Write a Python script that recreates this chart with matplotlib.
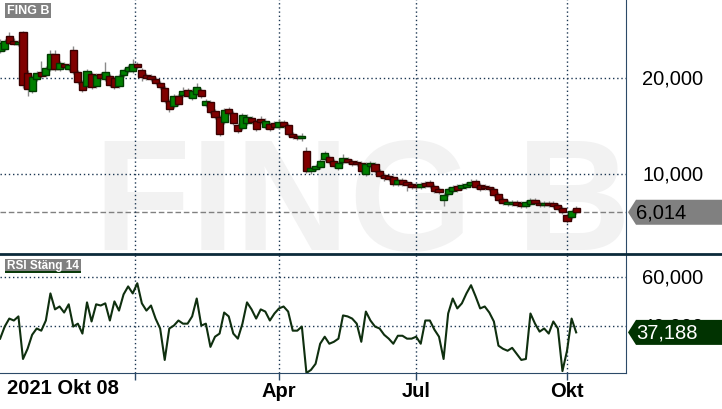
import numpy as np
import pandas as pd
import matplotlib
matplotlib.use("Agg")
import matplotlib.pyplot as plt
import matplotlib.transforms as mtransforms
from matplotlib.lines import Line2D
from matplotlib.patches import Polygon, Rectangle

plt.rcParams['font.family'] = ['Liberation Sans', 'DejaVu Sans']

# Stockholm trading sessions, 2021-10-08 .. 2022-10-07
holidays = ["2021-12-24", "2021-12-31", "2022-01-06", "2022-04-15",
            "2022-04-18", "2022-05-26", "2022-06-06", "2022-06-24"]
sessions = pd.bdate_range("2021-10-08", "2022-10-07")
sessions = sessions[~sessions.isin(pd.to_datetime(holidays))]
candle_pos = np.arange(len(sessions))[::2]

# FING B, SEK (one candle per two sessions)
opens = [22.81, 23.02, 24.38, 23.85, 23.54, 24.79, 20.52, 18.65, 19.90, 20.62,
         20.31, 20.94, 22.50, 20.94, 21.46, 20.94, 22.92, 20.62, 19.58, 19.17,
         20.42, 19.17, 20.42, 19.90, 20.21, 20.00, 19.17, 20.31, 20.73, 20.73,
         21.46, 20.83, 20.31, 20.21, 19.90, 19.48, 18.96, 17.60, 17.08, 18.12,
         18.23, 18.75, 17.92, 18.33, 18.75, 17.19, 17.50, 16.56, 15.93, 15.42,
         16.77, 16.35, 15.10, 14.79, 15.31, 15.83, 15.52, 15.73, 14.89, 15.21,
         15.31, 14.89, 15.42, 15.10, 14.17, 13.96, 13.75, 12.39, 10.31, 10.52,
         10.73, 11.56, 11.77, 11.35, 10.62, 11.25, 11.56, 11.35, 11.25, 11.14,
         10.00, 10.83, 11.04, 10.31, 9.89, 9.79, 9.69, 8.96, 9.37, 9.17,
         8.96, 8.85, 8.64, 9.06, 9.17, 8.75, 8.44, 7.29, 7.92, 8.23,
         8.75, 8.54, 8.64, 8.85, 9.27, 8.85, 8.75, 8.64, 8.44, 7.92,
         7.39, 6.87, 6.87, 7.08, 6.98, 6.67, 6.87, 7.29, 6.98, 6.77,
         6.98, 6.98, 6.77, 6.46, 5.73, 5.52, 6.45]
closes = [23.65, 23.85, 23.65, 23.54, 23.75, 19.27, 18.85, 20.10, 20.52, 20.21,
          21.04, 22.50, 20.94, 21.56, 21.15, 21.35, 20.62, 19.58, 18.75, 20.73,
          19.06, 20.31, 20.00, 20.62, 19.27, 19.06, 20.21, 20.83, 21.15, 21.46,
          21.15, 20.10, 20.00, 19.90, 19.48, 19.06, 17.60, 16.77, 18.12, 17.29,
          18.65, 18.12, 18.65, 19.06, 18.12, 17.60, 16.46, 15.93, 14.17, 16.67,
          16.35, 15.31, 14.48, 16.15, 15.93, 15.42, 14.69, 15.42, 15.52, 14.69,
          14.89, 15.42, 15.00, 14.17, 13.85, 13.75, 13.96, 10.31, 10.62, 10.83,
          11.35, 12.19, 11.25, 10.83, 11.14, 11.66, 11.25, 11.04, 11.04, 10.31,
          11.04, 11.14, 10.31, 9.79, 9.58, 9.48, 8.96, 9.37, 8.96, 8.85,
          8.64, 8.64, 8.96, 8.75, 8.75, 8.23, 8.12, 7.81, 8.44, 8.64,
          8.33, 8.85, 8.96, 9.17, 8.64, 8.44, 8.54, 8.44, 7.81, 7.29,
          6.98, 7.08, 7.08, 6.77, 6.67, 7.08, 7.29, 6.98, 6.77, 6.98,
          6.77, 6.67, 6.35, 6.04, 5.10, 6.15, 6.014]
highs = [24.06, 24.06, 24.79, 24.17, 23.96, 24.90, 20.83, 20.31, 20.73, 21.77,
         21.25, 22.92, 22.92, 21.77, 21.67, 21.56, 23.33, 20.83, 19.79, 20.94,
         20.62, 20.52, 20.62, 21.66, 20.42, 20.21, 20.42, 21.04, 21.35, 21.98,
         21.67, 21.04, 20.52, 20.42, 20.10, 19.69, 19.17, 17.81, 18.33, 18.33,
         19.06, 18.96, 18.85, 19.48, 18.96, 17.81, 17.71, 16.77, 16.14, 16.88,
         16.98, 16.56, 15.31, 16.35, 16.25, 16.04, 15.73, 16.04, 15.83, 15.42,
         15.52, 15.73, 15.62, 15.31, 14.37, 14.17, 14.27, 12.81, 10.83, 11.04,
         11.56, 12.39, 11.98, 11.56, 11.35, 12.08, 11.77, 11.56, 11.46, 11.35,
         11.25, 11.35, 11.25, 10.52, 10.10, 10.00, 9.90, 9.58, 9.58, 9.37,
         9.17, 9.06, 9.17, 9.27, 9.37, 8.96, 8.64, 8.02, 8.64, 8.85,
         8.96, 9.06, 9.17, 9.48, 9.48, 9.06, 8.96, 8.85, 8.64, 8.12,
         7.60, 7.29, 7.29, 7.29, 7.18, 7.29, 7.50, 7.50, 7.18, 7.18,
         7.18, 7.18, 6.98, 6.67, 5.94, 6.35, 6.66]
lows = [22.60, 22.81, 23.54, 23.44, 23.33, 18.96, 18.13, 18.44, 19.69, 20.00,
        20.10, 20.73, 20.73, 20.73, 20.94, 20.73, 20.42, 19.38, 18.54, 18.96,
        18.85, 18.96, 19.79, 19.69, 19.06, 18.85, 18.96, 20.10, 20.52, 20.52,
        20.94, 19.69, 19.79, 19.69, 19.27, 18.85, 17.39, 16.46, 16.87, 17.08,
        18.02, 17.92, 17.71, 18.12, 17.92, 16.98, 16.25, 15.73, 13.96, 15.21,
        16.14, 15.10, 14.27, 14.58, 15.10, 15.21, 14.48, 15.21, 14.69, 14.48,
        14.69, 14.69, 14.79, 13.96, 13.65, 13.54, 13.44, 10.10, 10.00, 10.31,
        10.52, 11.35, 11.04, 10.62, 10.41, 11.04, 11.04, 10.83, 10.83, 10.10,
        9.79, 10.62, 10.10, 9.58, 9.27, 9.27, 8.75, 8.75, 8.75, 8.23,
        8.44, 8.33, 8.44, 8.54, 8.54, 8.02, 7.92, 6.67, 7.71, 8.02,
        8.12, 8.33, 8.44, 8.64, 8.44, 8.23, 8.33, 8.23, 7.60, 7.08,
        6.77, 6.67, 6.67, 6.56, 6.46, 6.46, 6.67, 6.77, 6.56, 6.56,
        6.56, 6.46, 6.15, 5.83, 4.88, 5.31, 5.83]

# RSI (close, 14)
rsi = [34.6, 39.6, 42.9, 42.1, 43.8, 26.2, 30.4, 36.2, 38.8, 37.9,
       42.1, 53.3, 46.7, 47.9, 45.4, 48.8, 39.6, 40.8, 36.7, 49.6,
       41.7, 48.8, 48.3, 49.2, 42.1, 50.0, 46.2, 52.9, 56.2, 53.3,
       57.5, 49.2, 46.2, 48.3, 42.9, 38.8, 25.8, 38.8, 40.0, 42.1,
       40.8, 40.8, 43.8, 51.2, 40.0, 40.8, 31.2, 35.4, 36.7, 45.4,
       43.8, 36.7, 34.6, 40.8, 49.6, 46.7, 42.9, 46.7, 45.8, 42.1,
       45.0, 47.1, 47.9, 45.8, 37.9, 37.9, 39.6, 20.4, 21.7, 24.2,
       32.5, 35.4, 32.5, 33.3, 34.6, 44.2, 43.8, 42.9, 40.8, 33.3,
       45.8, 42.1, 39.6, 38.8, 36.2, 34.6, 32.5, 35.8, 35.8, 34.6,
       34.6, 35.4, 32.5, 42.1, 42.1, 38.3, 35.4, 26.2, 45.0, 51.2,
       47.1, 49.2, 53.3, 56.7, 52.1, 47.1, 47.9, 45.4, 41.7, 31.7,
       30.4, 29.6, 30.8, 28.3, 25.8, 26.2, 45.0, 40.8, 37.5, 38.8,
       36.7, 41.7, 38.8, 21.2, 29.6, 42.9, 37.188]

price_ticks = [10, 20]
rsi_ticks = [40, 60]
month_starts = ["2022-01-01", "2022-04-01", "2022-07-01", "2022-10-01"]
month_labels = ["", "Apr", "Jul", "Okt"]
ticker = "FING B"
rsi_title = "RSI Stäng 14"

W, H = 722, 410
grid_col = "#1b3652"
frame_col = "#2c4a68"
dots = (0, (1, 2))

fig = plt.figure(figsize=(W / 100, H / 100), dpi=100)
ax = fig.add_axes([0, 1 - 255 / H, 626 / W, 255 / H])
rax = fig.add_axes([0, 1 - 374 / H, 626 / W, 119 / H])

month_pos = [sessions.searchsorted(pd.Timestamp(m)) for m in month_starts]

for a in (ax, rax):
    a.set_xlim(-0.06, 273.8)
    a.set_xticks(month_pos)
    a.spines['left'].set_visible(False)
    a.spines['top'].set_visible(False)
    a.spines['right'].set_color(frame_col)
    a.grid(True, color=grid_col, linestyle=dots, linewidth=1)
    a.tick_params(axis='y', length=0, labelleft=False, labelright=False)

ax.spines['bottom'].set_visible(False)
rax.spines['bottom'].set_color(frame_col)

# separator between the panels runs across the whole picture
fig.add_artist(Line2D([0, 1], [1 - 255 / H, 1 - 255 / H], transform=fig.transFigure,
                      color="#0b2a3a", linewidth=2))

# price panel
ax.set_ylim(1.666, 28.229)
ax.set_yticks(price_ticks)
ax.tick_params(axis='x', length=0, labelbottom=False)
ax.text(362 / 626, 5 / 255, ticker, transform=ax.transAxes, ha='center',
        va='baseline', fontsize=114, fontweight='bold', color='#f2f2f2', zorder=0)

opens_a = np.array(opens)
closes_a = np.array(closes)
up = closes_a >= opens_a
ax.vlines(candle_pos, lows, highs, color='#8a8a8a', linewidth=1, zorder=2)
ax.bar(candle_pos, np.abs(closes_a - opens_a), bottom=np.minimum(opens_a, closes_a),
       width=3.1, color=np.where(up, '#008000', '#800000'),
       edgecolor=np.where(up, '#003a00', '#3a0000'), linewidth=1, zorder=3)
ax.axhline(closes[-1], color='#808080', linestyle=(0, (4, 2)), linewidth=1, zorder=1)

# rsi panel
rax.set_ylim(20.4, 69.6)
rax.set_yticks(rsi_ticks)
rax.plot(candle_pos, rsi, color='#0f2f0f', linewidth=1.5, zorder=3)
rax.set_xticklabels(month_labels)
rax.tick_params(axis='x', length=5, width=1, color=frame_col, pad=0.5,
                labelsize=14.5)
for lab in rax.get_xticklabels():
    lab.set_fontweight('bold')
fig.text(7 / W, 1 - 379 / H, "2021 Okt 08", ha='left', va='top',
         fontsize=14.5, fontweight='bold')


def right_labels(a, values, fmt):
    tr = mtransforms.blended_transform_factory(a.transAxes, a.transData)
    for v in values:
        a.text(642 / 626, v, fmt(v), transform=tr, ha='left', va='center',
               fontsize=14.5, clip_on=False)


def value_tag(a, value, text, face, txt):
    yd = a.transData.transform((0, value))[1] / H
    h = 12.5 / H
    pts = [(628 / W, yd), (636 / W, yd + h), (1.01, yd + h), (1.01, yd - h), (636 / W, yd - h)]
    fig.add_artist(Polygon(pts, closed=True, transform=fig.transFigure,
                           facecolor=face, edgecolor='none'))
    fig.text(636 / W, yd, text, ha='left', va='center', fontsize=14.5, color=txt)


right_labels(ax, price_ticks, lambda v: f"{v:.3f}".replace('.', ','))
right_labels(rax, rsi_ticks, lambda v: f"{v:.3f}".replace('.', ','))
value_tag(ax, closes[-1], f"{closes[-1]:.3f}".replace('.', ','), '#808080', 'black')
value_tag(rax, rsi[-1], f"{rsi[-1]:.3f}".replace('.', ','), '#013301', 'white')

# panel captions
fig.add_artist(Rectangle((5 / W, 1 - 19 / H), 46 / W, 15 / H,
                         transform=fig.transFigure, facecolor='#808080', edgecolor='none'))
fig.text(28 / W, 1 - 11.5 / H, ticker, ha='center', va='center', fontsize=9,
         fontweight='bold', color='white')
fig.add_artist(Rectangle((5 / W, 1 - 272 / H), 76 / W, 12 / H,
                         transform=fig.transFigure, facecolor='#808080', edgecolor='none'))
fig.add_artist(Rectangle((5 / W, 1 - 274 / H), 76 / W, 2 / H,
                         transform=fig.transFigure, facecolor='#0a3a0a', edgecolor='none'))
fig.text(43 / W, 1 - 266.5 / H, rsi_title, ha='center', va='center', fontsize=8.5,
         fontweight='bold', color='white')

fig.savefig("out.png", dpi=100)
